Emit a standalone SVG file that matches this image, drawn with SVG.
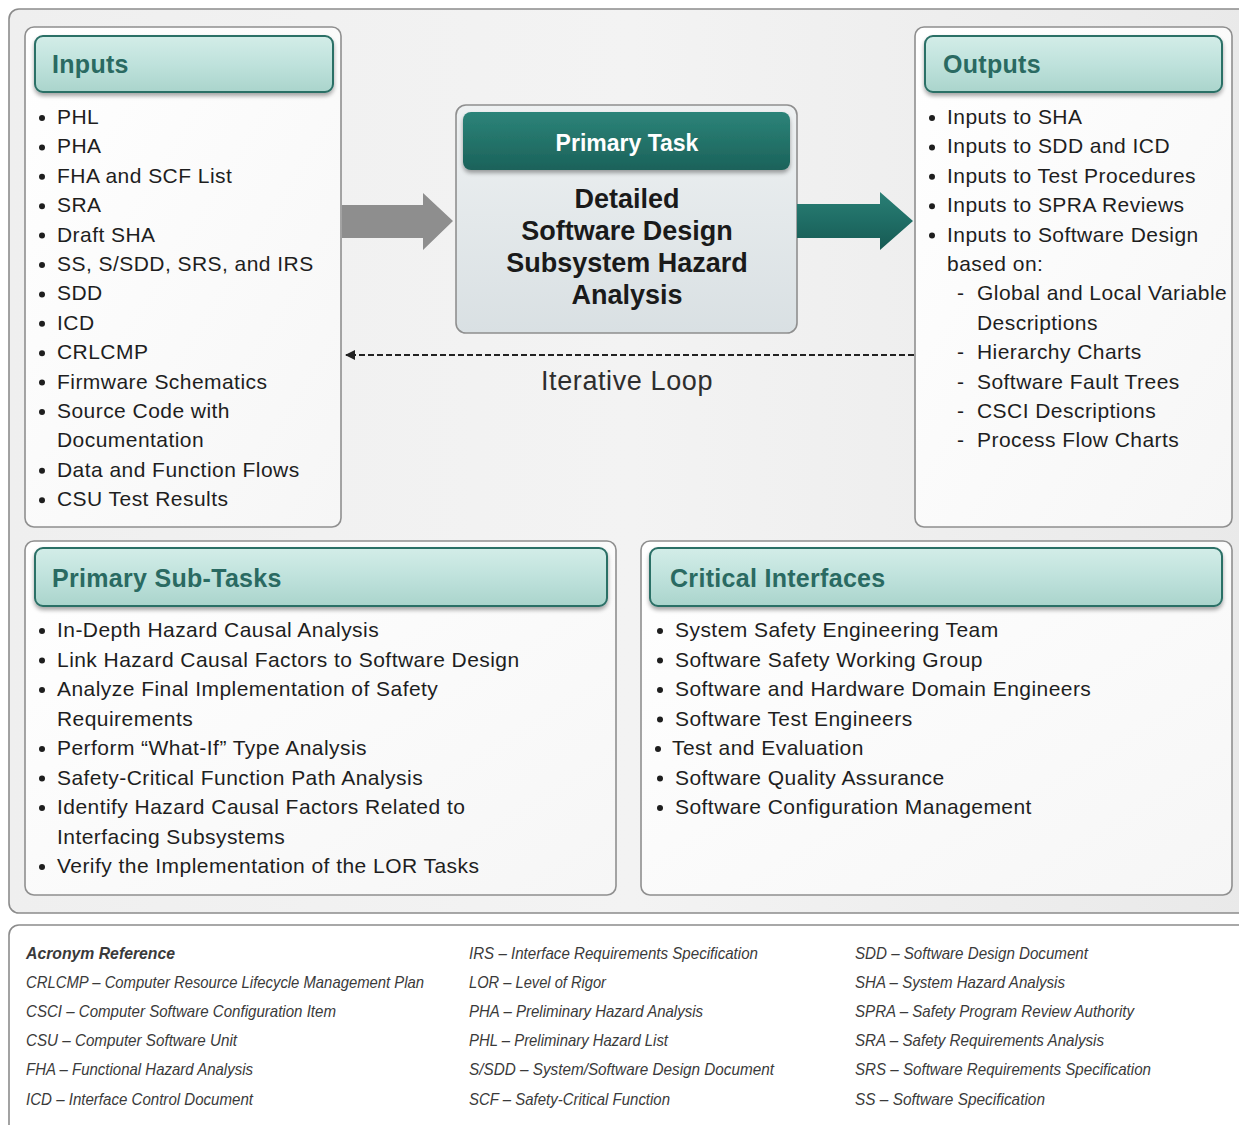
<svg xmlns="http://www.w3.org/2000/svg" width="1239" height="1125" viewBox="0 0 1239 1125">
<defs>
<linearGradient id="gFrame" x1="0" y1="0" x2="1" y2="0">
<stop offset="0" stop-color="#efefef"/><stop offset="0.5" stop-color="#f3f3f3"/><stop offset="1" stop-color="#e9e9e9"/>
</linearGradient>
<linearGradient id="gBox" x1="0" y1="0" x2="1" y2="1">
<stop offset="0" stop-color="#ffffff"/><stop offset="1" stop-color="#f6f6f6"/>
</linearGradient>
<linearGradient id="gHead" x1="0" y1="0" x2="0" y2="1">
<stop offset="0" stop-color="#d3ede8"/><stop offset="0.5" stop-color="#bfe2dc"/><stop offset="1" stop-color="#aad4cc"/>
</linearGradient>
<linearGradient id="gTask" x1="0" y1="0" x2="0" y2="1">
<stop offset="0" stop-color="#eef1f2"/><stop offset="1" stop-color="#d9e0e3"/>
</linearGradient>
<linearGradient id="gTaskHead" x1="0" y1="0" x2="0" y2="1">
<stop offset="0" stop-color="#2c8479"/><stop offset="1" stop-color="#1b625a"/>
</linearGradient>
<linearGradient id="gTeal" x1="0" y1="0" x2="0" y2="1">
<stop offset="0" stop-color="#2a7f75"/><stop offset="0.5" stop-color="#1f6d65"/><stop offset="1" stop-color="#175a53"/>
</linearGradient>
<marker id="arrL" viewBox="0 0 10 10" refX="9" refY="5" markerWidth="11" markerHeight="10" orient="auto" markerUnits="userSpaceOnUse">
<path d="M0,0 L10,5 L0,10 z" fill="#222"/>
</marker>
<filter id="sh" x="-5%" y="-20%" width="110%" height="150%">
<feGaussianBlur in="SourceAlpha" stdDeviation="2"/><feOffset dx="0" dy="3"/><feComponentTransfer><feFuncA type="linear" slope="0.35"/></feComponentTransfer>
<feMerge><feMergeNode/><feMergeNode in="SourceGraphic"/></feMerge>
</filter>
</defs>
<style>
.box{fill:url(#gBox);stroke:#8f8f8f;stroke-width:1.6}
.hdr{fill:url(#gHead);stroke:#2b6f66;stroke-width:2}
.ht{font-family:"Liberation Sans",Arial,sans-serif;font-weight:bold;font-size:25px;fill:#2a6a62;letter-spacing:0.3px}
.it{font-family:"Liberation Sans",Arial,sans-serif;font-size:21px;fill:#1e1e1e;letter-spacing:0.45px}
.bu{fill:#1e1e1e}
.ac{font-family:"Liberation Sans",Arial,sans-serif;font-style:italic;font-size:17px;fill:#3a3a3a}
.tk{font-family:"Liberation Sans",Arial,sans-serif;font-weight:bold;font-size:27px;fill:#1a1a1a}
</style>
<rect x="0" y="0" width="1239" height="1125" fill="#ffffff"/>
<rect x="9" y="9" width="1245" height="904" rx="10" fill="url(#gFrame)" stroke="#8c8c8c" stroke-width="1.6"/>

<g id="inputs">
<rect class="box" x="25" y="27" width="316" height="500" rx="9"/>
<rect class="hdr" x="35" y="36" width="298" height="56" rx="8" filter="url(#sh)"/>
<text class="ht" x="52" y="73">Inputs</text>
<g class="bu">
<circle cx="42" cy="118" r="3"/><circle cx="42" cy="147.4" r="3"/><circle cx="42" cy="176.8" r="3"/><circle cx="42" cy="206.2" r="3"/><circle cx="42" cy="235.6" r="3"/><circle cx="42" cy="265" r="3"/><circle cx="42" cy="294.4" r="3"/><circle cx="42" cy="323.8" r="3"/><circle cx="42" cy="353.2" r="3"/><circle cx="42" cy="382.6" r="3"/><circle cx="42" cy="412" r="3"/><circle cx="42" cy="470.8" r="3"/><circle cx="42" cy="500.2" r="3"/>
</g>
<text class="it" x="57" y="124">PHL</text>
<text class="it" x="57" y="153.4">PHA</text>
<text class="it" x="57" y="182.8">FHA and SCF List</text>
<text class="it" x="57" y="212.2">SRA</text>
<text class="it" x="57" y="241.6">Draft SHA</text>
<text class="it" x="57" y="271">SS, S/SDD, SRS, and IRS</text>
<text class="it" x="57" y="300.4">SDD</text>
<text class="it" x="57" y="329.8">ICD</text>
<text class="it" x="57" y="359.2">CRLCMP</text>
<text class="it" x="57" y="388.6">Firmware Schematics</text>
<text class="it" x="57" y="418">Source Code with</text>
<text class="it" x="57" y="447.4">Documentation</text>
<text class="it" x="57" y="476.8">Data and Function Flows</text>
<text class="it" x="57" y="506.2">CSU Test Results</text>
</g>

<g id="primary-task">
<rect x="456" y="105" width="341" height="228" rx="10" fill="url(#gTask)" stroke="#8f8f8f" stroke-width="1.6"/>
<rect x="463" y="112" width="327" height="58" rx="8" fill="url(#gTaskHead)" filter="url(#sh)"/>
<text x="627" y="151" text-anchor="middle" font-family="'Liberation Sans',Arial,sans-serif" font-weight="bold" font-size="23" fill="#ffffff">Primary Task</text>
<text class="tk" x="627" y="208" text-anchor="middle">Detailed</text>
<text class="tk" x="627" y="240" text-anchor="middle">Software Design</text>
<text class="tk" x="627" y="272" text-anchor="middle">Subsystem Hazard</text>
<text class="tk" x="627" y="304" text-anchor="middle">Analysis</text>
</g>

<g id="outputs">
<rect class="box" x="915" y="27" width="317" height="500" rx="9"/>
<rect class="hdr" x="925" y="36" width="297" height="56" rx="8" filter="url(#sh)"/>
<text class="ht" x="943" y="73">Outputs</text>
<g class="bu">
<circle cx="932" cy="118" r="3"/><circle cx="932" cy="147.4" r="3"/><circle cx="932" cy="176.8" r="3"/><circle cx="932" cy="206.2" r="3"/><circle cx="932" cy="235.6" r="3"/>
</g>
<text class="it" x="947" y="124">Inputs to SHA</text>
<text class="it" x="947" y="153.4">Inputs to SDD and ICD</text>
<text class="it" x="947" y="182.8">Inputs to Test Procedures</text>
<text class="it" x="947" y="212.2">Inputs to SPRA Reviews</text>
<text class="it" x="947" y="241.6">Inputs to Software Design</text>
<text class="it" x="947" y="271">based on:</text>
<text class="it" x="957" y="300.4">-</text><text class="it" x="977" y="300.4">Global and Local Variable</text>
<text class="it" x="977" y="329.8">Descriptions</text>
<text class="it" x="957" y="359.2">-</text><text class="it" x="977" y="359.2">Hierarchy Charts</text>
<text class="it" x="957" y="388.6">-</text><text class="it" x="977" y="388.6">Software Fault Trees</text>
<text class="it" x="957" y="418">-</text><text class="it" x="977" y="418">CSCI Descriptions</text>
<text class="it" x="957" y="447.4">-</text><text class="it" x="977" y="447.4">Process Flow Charts</text>
</g>

<g id="sub-tasks">
<rect class="box" x="25" y="541" width="591" height="354" rx="9"/>
<rect class="hdr" x="35" y="548" width="572" height="58" rx="8" filter="url(#sh)"/>
<text class="ht" x="52" y="587">Primary Sub-Tasks</text>
<g class="bu">
<circle cx="42" cy="631" r="3"/><circle cx="42" cy="660.5" r="3"/><circle cx="42" cy="690" r="3"/><circle cx="42" cy="749" r="3"/><circle cx="42" cy="778.5" r="3"/><circle cx="42" cy="808" r="3"/><circle cx="42" cy="867" r="3"/>
</g>
<text class="it" x="57" y="637">In-Depth Hazard Causal Analysis</text>
<text class="it" x="57" y="666.5">Link Hazard Causal Factors to Software Design</text>
<text class="it" x="57" y="696">Analyze Final Implementation of Safety</text>
<text class="it" x="57" y="725.5">Requirements</text>
<text class="it" x="57" y="755">Perform “What-If” Type Analysis</text>
<text class="it" x="57" y="784.5">Safety-Critical Function Path Analysis</text>
<text class="it" x="57" y="814">Identify Hazard Causal Factors Related to</text>
<text class="it" x="57" y="843.5">Interfacing Subsystems</text>
<text class="it" x="57" y="873">Verify the Implementation of the LOR Tasks</text>
</g>

<g id="critical-interfaces">
<rect class="box" x="641" y="541" width="591" height="354" rx="9"/>
<rect class="hdr" x="650" y="548" width="572" height="58" rx="8" filter="url(#sh)"/>
<text class="ht" x="670" y="587">Critical Interfaces</text>
<g class="bu">
<circle cx="660" cy="631" r="3"/><circle cx="660" cy="660.5" r="3"/><circle cx="660" cy="690" r="3"/><circle cx="660" cy="719.5" r="3"/><circle cx="658" cy="749" r="3"/><circle cx="660" cy="778.5" r="3"/><circle cx="660" cy="808" r="3"/>
</g>
<text class="it" x="675" y="637">System Safety Engineering Team</text>
<text class="it" x="675" y="666.5">Software Safety Working Group</text>
<text class="it" x="675" y="696">Software and Hardware Domain Engineers</text>
<text class="it" x="675" y="725.5">Software Test Engineers</text>
<text class="it" x="672" y="755">Test and Evaluation</text>
<text class="it" x="675" y="784.5">Software Quality Assurance</text>
<text class="it" x="675" y="814">Software Configuration Management</text>
</g>

<g id="connectors">
<path d="M342,205 L423,205 L423,193 L453,221 L423,250 L423,238 L342,238 Z" fill="#8e8e8e"/>
<path d="M797,204 L880,204 L880,192 L913,221 L880,250 L880,238 L797,238 Z" fill="url(#gTeal)"/>
<line x1="914" y1="355" x2="346" y2="355" stroke="#222" stroke-width="2" stroke-dasharray="6,3" marker-end="url(#arrL)"/>
<text x="627" y="390" text-anchor="middle" font-family="'Liberation Sans',Arial,sans-serif" font-size="27" letter-spacing="0.6" fill="#2e2e2e">Iterative Loop</text>
</g>

<g id="acronyms">
<rect x="9" y="925" width="1245" height="215" rx="10" fill="#ffffff" stroke="#8c8c8c" stroke-width="1.6"/>
<text class="ac" x="26" y="959" font-weight="bold" fill="#111" textLength="149" lengthAdjust="spacingAndGlyphs">Acronym Reference</text>
<text class="ac" x="26" y="988" textLength="398" lengthAdjust="spacingAndGlyphs">CRLCMP – Computer Resource Lifecycle Management Plan</text>
<text class="ac" x="26" y="1017" textLength="310" lengthAdjust="spacingAndGlyphs">CSCI – Computer Software Configuration Item</text>
<text class="ac" x="26" y="1046" textLength="211" lengthAdjust="spacingAndGlyphs">CSU – Computer Software Unit</text>
<text class="ac" x="26" y="1075" textLength="227" lengthAdjust="spacingAndGlyphs">FHA – Functional Hazard Analysis</text>
<text class="ac" x="26" y="1105" textLength="227" lengthAdjust="spacingAndGlyphs">ICD – Interface Control Document</text>
<text class="ac" x="469" y="959" textLength="289" lengthAdjust="spacingAndGlyphs">IRS – Interface Requirements Specification</text>
<text class="ac" x="469" y="988" textLength="137" lengthAdjust="spacingAndGlyphs">LOR – Level of Rigor</text>
<text class="ac" x="469" y="1017" textLength="234" lengthAdjust="spacingAndGlyphs">PHA – Preliminary Hazard Analysis</text>
<text class="ac" x="469" y="1046" textLength="199" lengthAdjust="spacingAndGlyphs">PHL – Preliminary Hazard List</text>
<text class="ac" x="469" y="1075" textLength="305" lengthAdjust="spacingAndGlyphs">S/SDD – System/Software Design Document</text>
<text class="ac" x="469" y="1105" textLength="201" lengthAdjust="spacingAndGlyphs">SCF – Safety-Critical Function</text>
<text class="ac" x="855" y="959" textLength="233" lengthAdjust="spacingAndGlyphs">SDD – Software Design Document</text>
<text class="ac" x="855" y="988" textLength="210" lengthAdjust="spacingAndGlyphs">SHA – System Hazard Analysis</text>
<text class="ac" x="855" y="1017" textLength="279" lengthAdjust="spacingAndGlyphs">SPRA – Safety Program Review Authority</text>
<text class="ac" x="855" y="1046" textLength="249" lengthAdjust="spacingAndGlyphs">SRA – Safety Requirements Analysis</text>
<text class="ac" x="855" y="1075" textLength="296" lengthAdjust="spacingAndGlyphs">SRS – Software Requirements Specification</text>
<text class="ac" x="855" y="1105" textLength="190" lengthAdjust="spacingAndGlyphs">SS – Software Specification</text>
</g>
</svg>
